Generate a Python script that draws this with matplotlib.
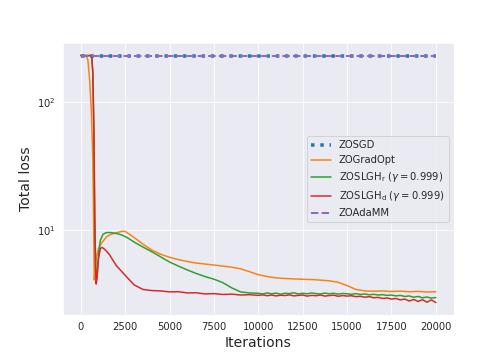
## Loss curves of zeroth-order optimizers
import matplotlib
matplotlib.use("Agg")
import matplotlib.pyplot as plt
import seaborn as sns

sns.set_style("darkgrid")

## Flat baselines
sgd_iters = [0, 20000]
sgd_loss = [232, 232]
adamm_iters = [0, 20000]
adamm_loss = [232, 232]

## ZOGradOpt
gradopt_iters = [0, 300, 400, 500, 600, 680, 730, 760, 800, 880, 1000, 1160, 1450, 1700,
                 2000, 2300, 2500, 2700, 3000, 3500, 4000, 4500, 5000, 5500, 6000, 6500,
                 7000, 7500, 8000, 8500, 9000, 9500, 10000, 10500, 11000, 11500, 12000,
                 12500, 13000, 13500, 14000, 14500, 15000, 15500, 16000, 16500, 17000,
                 17500, 18000, 18500, 19000, 19500, 20000]
gradopt_loss = [232, 232, 215, 150, 85, 35, 10, 4.1, 4.6, 6.2, 7.2, 7.9, 8.9, 9.3,
                9.55, 9.8, 9.8, 9.4, 8.8, 7.8, 7.0, 6.5, 6.15, 5.9, 5.7, 5.55,
                5.45, 5.35, 5.25, 5.15, 5.0, 4.75, 4.5, 4.35, 4.25, 4.2, 4.17,
                4.14, 4.12, 4.08, 4.03, 3.92, 3.7, 3.45, 3.36, 3.34, 3.36,
                3.32, 3.35, 3.31, 3.33, 3.29, 3.31]

## ZOSLGH_r
slgh_r_iters = [0, 550, 620, 680, 740, 790, 830, 870, 920, 1000, 1100, 1250, 1450, 1700,
                2000, 2300, 2600, 3000, 3500, 4000, 4500, 5000, 5500, 6000, 6500, 7000,
                7500, 8000, 8500, 9000, 9500, 10000, 10250, 10500, 10750, 11000, 11250,
                11500, 11750, 12000, 12250, 12500, 12750, 13000, 13250, 13500, 13750,
                14000, 14250, 14500, 14750, 15000, 15250, 15500, 15750, 16000, 16250,
                16500, 16750, 17000, 17250, 17500, 17750, 18000, 18250, 18500, 18750,
                19000, 19250, 19500, 19750, 20000]
slgh_r_loss = [232, 232, 228, 170, 60, 12, 5.5, 3.9, 4.5, 6.5, 8.3, 9.3, 9.6, 9.6,
               9.45, 9.2, 8.8, 8.1, 7.4, 6.8, 6.2, 5.65, 5.25, 4.9, 4.6, 4.35,
               4.15, 3.9, 3.55, 3.3, 3.24, 3.22, 3.18, 3.24, 3.19, 3.23, 3.17,
               3.22, 3.2, 3.25, 3.18, 3.22, 3.19, 3.24, 3.2, 3.18, 3.23,
               3.19, 3.22, 3.17, 3.21, 3.19, 3.16, 3.2, 3.15, 3.18, 3.13,
               3.16, 3.12, 3.14, 3.1, 3.12, 3.07, 3.1, 3.04, 3.07, 3.0,
               3.04, 2.97, 3.01, 2.95, 2.98]

## ZOSLGH_d
slgh_d_iters = [0, 550, 620, 680, 740, 790, 830, 870, 920, 1000, 1100, 1200, 1350, 1600,
                2000, 2500, 3000, 3500, 4000, 4500, 5000, 5500, 6000, 6500, 7000, 7500,
                8000, 8500, 9000, 9500, 10000, 10250, 10500, 10750, 11000, 11250, 11500,
                11750, 12000, 12250, 12500, 12750, 13000, 13250, 13500, 13750, 14000,
                14250, 14500, 14750, 15000, 15250, 15500, 15750, 16000, 16250, 16500,
                16750, 17000, 17250, 17500, 17750, 18000, 18250, 18500, 18750, 19000,
                19250, 19500, 19750, 20000]
slgh_d_loss = [232, 232, 228, 170, 60, 12, 5.5, 3.8, 4.3, 6.0, 7.2, 7.35, 7.1, 6.5,
               5.3, 4.45, 3.75, 3.45, 3.38, 3.36, 3.3, 3.31, 3.24, 3.25, 3.18, 3.2,
               3.15, 3.17, 3.12, 3.14, 3.10, 3.13, 3.08, 3.12, 3.07, 3.11, 3.09,
               3.13, 3.07, 3.1, 3.12, 3.06, 3.1, 3.08, 3.12, 3.06, 3.09,
               3.11, 3.05, 3.09, 3.06, 3.08, 3.03, 3.05, 3.0, 3.03, 2.97,
               2.99, 2.93, 2.96, 2.9, 2.93, 2.86, 2.9, 2.8, 2.88, 2.78,
               2.87, 2.74, 2.86, 2.72]

## Plot
plt.figure(figsize=(7, 5), dpi=72)
plt.plot(sgd_iters, sgd_loss, ':', lw=3.5, color='tab:blue', label='ZOSGD')
plt.plot(gradopt_iters, gradopt_loss, color='tab:orange', lw=1.5, label='ZOGradOpt')
plt.plot(slgh_r_iters, slgh_r_loss, color='tab:green', lw=1.5,
         label=r'ZOSLGH$_\mathrm{r}$ ($\gamma = 0.999$)')
plt.plot(slgh_d_iters, slgh_d_loss, color='tab:red', lw=1.5,
         label=r'ZOSLGH$_\mathrm{d}$ ($\gamma = 0.999$)')
plt.plot(adamm_iters, adamm_loss, '--', color='tab:purple', lw=2, label='ZOAdaMM')
plt.yscale('log')
plt.xlabel('Iterations', fontsize=14)
plt.ylabel('Total loss', fontsize=14)
plt.legend(loc='center right')
plt.subplots_adjust(bottom=0.125)
plt.savefig('out.png', dpi=72)
